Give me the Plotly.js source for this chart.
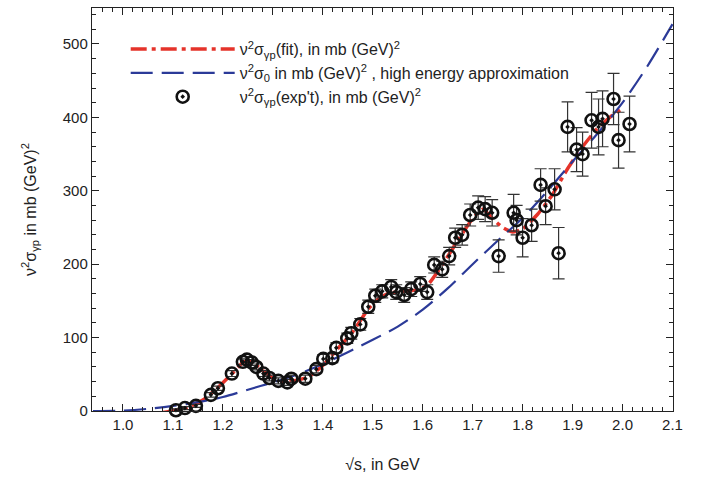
<!DOCTYPE html>
<html>
<head>
<meta charset="utf-8">
<script src="https://cdn.plot.ly/plotly-3.0.1.min.js"></script>
<style>html,body{margin:0;padding:0;background:#fff;}#chart{width:708px;height:477px;}</style>
</head>
<body>
<div id="chart"></div>
<script>
// Experimental points: sqrt(s) in GeV, nu^2 sigma in mb GeV^2, symmetric error
const expX = [1.106,1.124,1.146,1.176,1.190,1.218,1.240,1.248,1.258,1.267,1.281,1.293,1.311,1.329,1.337,1.365,1.387,1.401,1.419,1.427,1.449,1.457,1.475,1.491,1.505,1.519,1.537,1.547,1.563,1.577,1.595,1.609,1.623,1.639,1.653,1.665,1.679,1.695,1.711,1.725,1.739,1.752,1.782,1.788,1.800,1.818,1.836,1.846,1.864,1.872,1.890,1.908,1.920,1.938,1.952,1.960,1.982,1.992,2.014];
const expY = [1,4,7,22,31,51,67,70,66,60,51,45,41,39,44,44,57,71,72,86,99,106,118,142,157,163,169,162,158,166,173,162,199,193,211,236,240,267,277,275,270,211,270,260,236,253,308,279,302,215,387,356,350,396,387,398,425,369,391];
const expErr = [2,2,2,3,3,4,4,4,4,4,4,4,4,4,5,5,5,6,6,7,7,8,8,9,9,9,10,10,10,10,10,10,11,11,12,13,14,15,16,17,18,22,25,20,26,22,22,25,28,35,34,30,30,38,38,38,35,38,38];

// Fit curve
const fitX = [1.08,1.10,1.13,1.16,1.19,1.22,1.24,1.25,1.26,1.28,1.30,1.32,1.34,1.37,1.40,1.43,1.46,1.49,1.51,1.53,1.56,1.59,1.61,1.64,1.67,1.70,1.72,1.74,1.76,1.78,1.80,1.83,1.86,1.89,1.92,1.95,1.98,1.995];
const fitY = [-2,0,5,15,32,52,66,68,66,55,45,40,41,46,62,85,108,138,152,160,163,165,172,200,232,262,275,262,250,244,248,268,295,330,360,385,403,410];

// High energy approximation
const heX = [0.94,1.00,1.05,1.10,1.15,1.20,1.25,1.30,1.35,1.40,1.45,1.50,1.55,1.60,1.65,1.70,1.75,1.80,1.85,1.90,1.95,2.00,2.05,2.10];
const heY = [0,0.5,3,7,12,19,29,39,50,64,80,97,115,138,167,200,232,263,300,340,378,420,470,527];

const xTicks = [1.0,1.1,1.2,1.3,1.4,1.5,1.6,1.7,1.8,1.9,2.0,2.1];
const yTicks = [0,100,200,300,400,500];

const font = "Liberation Sans, Arial, sans-serif";

const traces = [
  {
    x: fitX, y: fitY, type: 'scatter', mode: 'lines',
    name: 'ν<sup>2</sup>σ<sub>γp</sub>(fit), in mb (GeV)<sup>2</sup>',
    line: {color: '#e5332a', width: 3.5, dash: '16px,5px,4px,5px', shape: 'spline', smoothing: 0.6}
  },
  {
    x: heX, y: heY, type: 'scatter', mode: 'lines',
    name: 'ν<sup>2</sup>σ<sub>0</sub> in mb (GeV)<sup>2</sup> , high energy approximation',
    line: {color: '#2b3a98', width: 2.2, dash: '22px,9px', shape: 'spline', smoothing: 0.8}
  },
  {
    x: expX, y: expY, type: 'scatter', mode: 'markers',
    name: "ν<sup>2</sup>σ<sub>γp</sub>(exp't), in mb (GeV)<sup>2</sup>",
    cliponaxis: false,
    marker: {symbol: 'circle-open-dot', size: 12, color: '#111', line: {color: '#111', width: 2.6}},
    error_y: {type: 'data', array: expErr, visible: true, color: '#333', thickness: 1.2, width: 6}
  }
];

const layout = {
  width: 708, height: 477,
  margin: {l: 92, r: 35, t: 8, b: 66},
  paper_bgcolor: '#fff', plot_bgcolor: '#fff',
  font: {family: font, size: 14, color: '#222'},
  showlegend: true,
  legend: {
    x: 0.058, y: 0.94, xanchor: 'left', yanchor: 'top',
    bgcolor: 'rgba(0,0,0,0)', borderwidth: 0,
    itemwidth: 104,
    font: {family: font, size: 16, color: '#222'}
  },
  xaxis: {
    range: [0.938, 2.101],
    tickvals: xTicks,
    ticktext: xTicks.map(v => v.toFixed(1)),
    ticks: 'inside', ticklen: 7, tickwidth: 1, tickcolor: '#222',
    minor: {dtick: 0.02, ticks: 'inside', ticklen: 4, tickcolor: '#222', showgrid: false},
    showline: true, linecolor: '#222', linewidth: 1.2, mirror: 'allticks',
    showgrid: false, zeroline: false,
    tickfont: {family: font, size: 15, color: '#222'},
    title: {text: '√s, in GeV', font: {family: font, size: 16, color: '#222'}, standoff: 26}
  },
  yaxis: {
    range: [0, 549],
    tickvals: yTicks,
    ticks: 'inside', ticklen: 7, tickwidth: 1, tickcolor: '#222',
    minor: {dtick: 20, ticks: 'inside', ticklen: 4, tickcolor: '#222', showgrid: false},
    showline: true, linecolor: '#222', linewidth: 1.2, mirror: 'allticks',
    showgrid: false, zeroline: false,
    tickfont: {family: font, size: 15, color: '#222'},
    title: {text: 'ν<sup>2</sup>σ<sub>γp</sub> in mb (GeV)<sup>2</sup>', font: {family: font, size: 16, color: '#222'}, standoff: 22}
  }
};

Plotly.newPlot('chart', traces, layout, {displayModeBar: false, staticPlot: true});
</script>
</body>
</html>
